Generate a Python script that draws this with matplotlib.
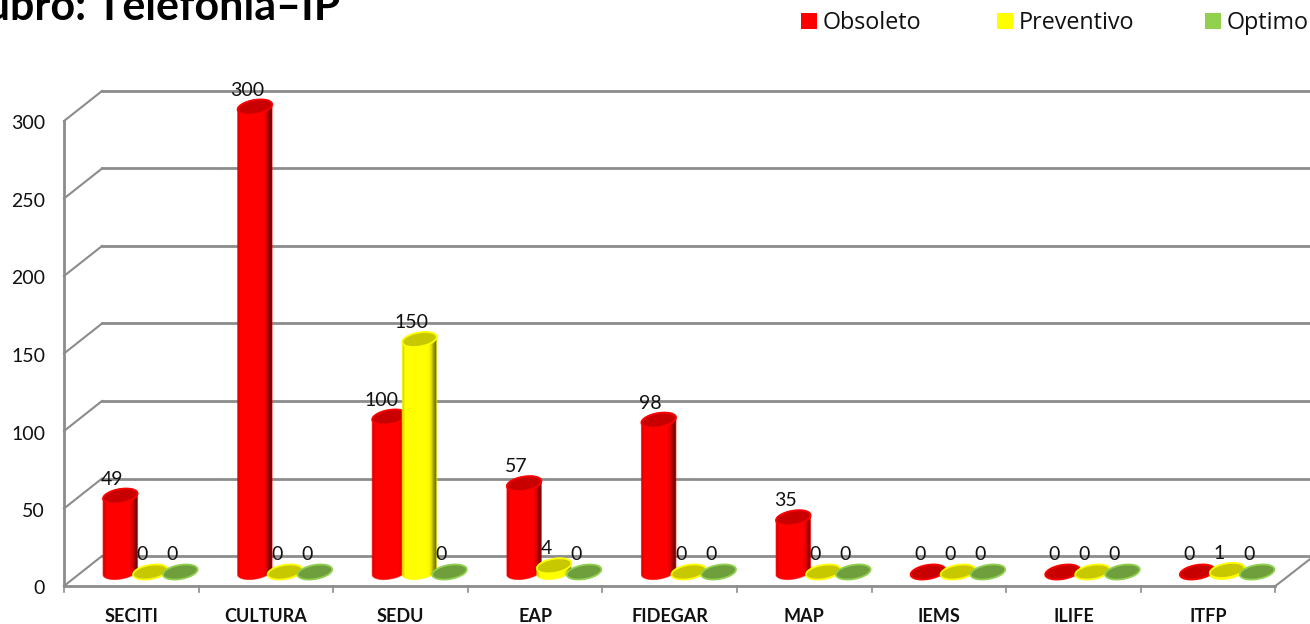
import numpy as np
import matplotlib
matplotlib.use('Agg')
import matplotlib.pyplot as plt
from matplotlib.colors import LinearSegmentedColormap
from matplotlib.patches import Polygon

plt.rcParams['font.family'] = ['Lato', 'DejaVu Sans']

categories = ['SECITI', 'CULTURA', 'SEDU', 'EAP', 'FIDEGAR', 'MAP', 'IEMS', 'ILIFE', 'ITFP']
obsoleto = [49, 300, 100, 57, 98, 35, 0, 0, 0]
preventivo = [0, 0, 150, 4, 0, 0, 0, 0, 1]
optimo = [0, 0, 0, 0, 0, 0, 0, 0, 0]
y_ticks = [0, 50, 100, 150, 200, 250, 300]

W, H = 1310, 624
PX_X = 134.6   # pixels per category
PX_Y = 1.55    # pixels per unit
X0, Y0 = 64, 586  # pixel of the axes origin
GRAY = '#8c8c8c'

fig = plt.figure(figsize=(W / 100, H / 100), dpi=100)
ax = fig.add_axes([0, 0, 1, 1])
xlim = (-X0 / PX_X - 0.5, (W - X0) / PX_X - 0.5)
ylim = ((Y0 - H) / PX_Y, Y0 / PX_Y)
ax.axis('off')

dx = lambda p: p / PX_X
dy = lambda p: p / PX_Y
n = len(categories)
left, right = -0.5, n - 0.5

# walls
for v in y_ticks:
    ax.plot([left, left + dx(38)], [v, v + dy(30)], color=GRAY, lw=1.5, zorder=1)
    ax.plot([left + dx(38), xlim[1]], [v + dy(30), v + dy(30)], color=GRAY, lw=2, zorder=1)
ax.plot([left, left], [0, 300], color=GRAY, lw=2, zorder=1)
ax.plot([left, right], [0, 0], color=GRAY, lw=2, zorder=1)
ax.plot([right, right + dx(36)], [0, dy(28)], color=GRAY, lw=1.5, zorder=1)
for i in range(n + 1):
    ax.plot([i - 0.5, i - 0.5], [0, -dy(6)], color=GRAY, lw=1.2, zorder=1)

for v in y_ticks:
    ax.text(left - dx(19), v - dy(3), str(v), ha='right', va='center', fontsize=14, color='#111111')
for i, c in enumerate(categories):
    ax.text(i, -dy(31), c, ha='center', va='center', fontsize=13, fontweight='bold', color='#111111')


def ellipse(cx, v, t):
    a, b, r = 17.5, 7, np.radians(10)
    px = a * np.cos(t) * np.cos(r) - b * np.sin(t) * np.sin(r)
    py = a * np.cos(t) * np.sin(r) + b * np.sin(t) * np.cos(r)
    return np.column_stack([cx + dx(px), v + dy(py)])


def cylinder(cx, v, body, top, edge, z):
    base = dy(14)  # bars stand in the middle of the floor
    if v > 0:
        outline = np.vstack([ellipse(cx, base, np.linspace(np.pi, 2 * np.pi, 40)),
                             ellipse(cx, base + v, np.linspace(0, np.pi, 40))])
        poly = Polygon(outline, closed=True, fc='none', ec='none', zorder=z)
        ax.add_patch(poly)
        grad = np.array([[0.85, 1, 1, 1, 1, 1, 1, 1, 1, 1, 1, 1, 0.97, 0.85, 0.6, 0.45]])
        cmap = LinearSegmentedColormap.from_list('c', ['#000000', body])
        im = ax.imshow(grad, cmap=cmap, vmin=0, vmax=1, aspect='auto', interpolation='bilinear',
                       extent=[cx - dx(17.5), cx + dx(17.5), base - dy(10), base + v + dy(10)], zorder=z)
        im.set_clip_path(poly)
        ax.add_patch(Polygon(outline, closed=True, fc='none', ec=edge, lw=0.8, alpha=0.6, zorder=z))
    top_pts = ellipse(cx, base + v, np.linspace(0, 2 * np.pi, 60))
    ax.add_patch(Polygon(top_pts, closed=True, fc=top, ec=edge, lw=1.3, zorder=z))


series = [(obsoleto, -1, '#ff0000', '#c80000', '#ff0000'),
          (preventivo, 0, '#ffff00', '#c8c800', '#ffff00'),
          (optimo, 1, '#92d050', '#6f9e3c', '#92d050')]

for vals, k, body, top, edge in series:
    for i, v in enumerate(vals):
        cx = i + dx(19) + k * dx(30)
        cylinder(cx, v, body, top, edge, 3 + k + 0.01 * i)
        ax.text(cx - dx(8), v + dy(14) + dy(17), str(v), ha='center', va='center',
                fontsize=14, color='#111111', zorder=10)

# legend, clipped title
for x, label, col in [(801, 'Obsoleto', '#ff0000'), (997, 'Preventivo', '#ffff00'), (1205, 'Optimo', '#92d050')]:
    ax.add_patch(Polygon([[left + dx(x - X0), (Y0 - 29) / PX_Y], [left + dx(x + 16 - X0), (Y0 - 29) / PX_Y],
                          [left + dx(x + 16 - X0), (Y0 - 13) / PX_Y], [left + dx(x - X0), (Y0 - 13) / PX_Y]],
                         closed=True, fc=col, ec='none'))
    ax.text(left + dx(x + 22 - X0), (Y0 - 23) / PX_Y, label, ha='left', va='center', fontsize=16.8,
            family=['Open Sans', 'DejaVu Sans'], color='#111111')

ax.text(left + dx(-42 - X0), (Y0 - 7) / PX_Y, 'Rubro: Telefonía–IP', ha='left', va='center',
        fontsize=31, fontweight='bold', color='#000000')

ax.set_xlim(xlim)
ax.set_ylim(ylim)
fig.savefig('out.png', dpi=100)
